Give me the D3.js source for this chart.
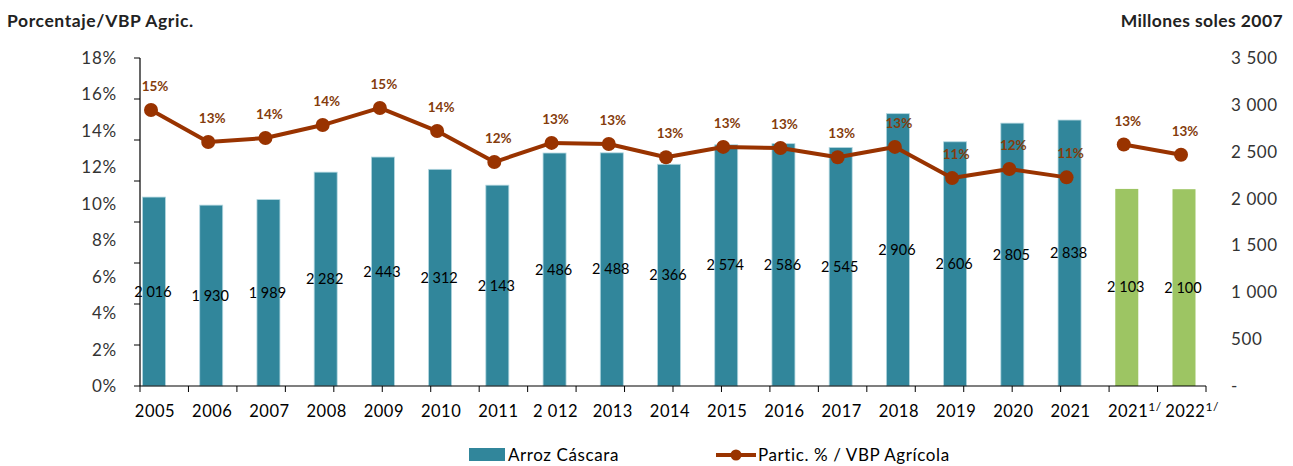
<!DOCTYPE html>
<html lang="es">
<head>
<meta charset="UTF-8">
<title>Arroz Cáscara</title>
<script src="https://cdn.jsdelivr.net/npm/d3@7"></script>
<style>
  body { margin: 0; background: #fff; }
  text { font-family: Lato, "Open Sans", sans-serif; }
</style>
</head>
<body>
<svg width="1293" height="466"></svg>
<script>
// datos
var categorias = ["2005","2006","2007","2008","2009","2010","2011","2 012","2013","2014",
                  "2015","2016","2017","2018","2019","2020","2021","2021","2022"];
var superindice = ["","","","","","","","","","","","","","","","","","1/","1/"];
var proyectado = [false,false,false,false,false,false,false,false,false,false,
                  false,false,false,false,false,false,false,true,true];
var vbpArroz = [2016,1930,1989,2282,2443,2312,2143,2486,2488,2366,
                2574,2586,2545,2906,2606,2805,2838,2103,2100];
var particPct = [15.15,13.39,13.61,14.32,15.26,13.99,12.29,13.34,13.28,12.55,
                 13.12,13.06,12.55,13.12,11.41,11.91,11.45,13.25,12.69];
var ticksPct = [0,2,4,6,8,10,12,14,16,18];
var ticksMill = [0,500,1000,1500,2000,2500,3000,3500];

var svg = d3.select('svg'),
    top_ = 58, bottom = 386, left = 140, right = 1206;

var idx = d3.range(categorias.length);

// escalas
var x = d3.scalePoint().domain(idx).range([151, 1181]);
var yL = d3.scaleLinear().domain([0, 18]).range([bottom, top_]);
var yR = d3.scaleLinear().domain([0, 3500]).range([bottom, top_]);

var loc = d3.formatLocale({decimal: ",", thousands: " ", grouping: [3], currency: ["", ""]});
var fmtMill = loc.format(",d");

// titulos
svg.append('text').attr('x', 7).attr('y', 27)
    .attr('font-size', '17.5px').attr('font-weight', 'bold').attr('fill', '#222')
    .attr('letter-spacing', '0.6px')
    .text('Porcentaje/VBP Agric.');
svg.append('text').attr('x', 1283).attr('y', 27)
    .attr('font-size', '17.5px').attr('font-weight', 'bold').attr('fill', '#222')
    .attr('letter-spacing', '0.4px')
    .attr('text-anchor', 'end')
    .text('Millones soles 2007');

// barras
svg.append('g').selectAll('rect')
    .data(idx)
    .enter().append('rect')
    .attr('x', function(i){ return x(i) + 3 - 11.5; })
    .attr('width', 23)
    .attr('y', function(i){ return yR(vbpArroz[i]); })
    .attr('height', function(i){ return bottom - yR(vbpArroz[i]); })
    .attr('fill', function(i){ return proyectado[i] ? '#9dc563' : '#31869b'; })
    .attr('stroke', function(i){ return proyectado[i] ? 'none' : '#b3d7e0'; })
    .attr('stroke-width', 0.8);

// etiquetas de barras
svg.append('g').selectAll('text')
    .data(idx)
    .enter().append('text')
    .attr('x', function(i){ return x(i) + 2; })
    .attr('y', function(i){ return (yR(vbpArroz[i]) + bottom) / 2 + 5; })
    .attr('text-anchor', 'middle')
    .attr('font-size', '14.5px')
    .attr('fill', '#000')
    .text(function(i){ return fmtMill(vbpArroz[i]); });

// eje izquierdo: linea, marcas y etiquetas
var gL = svg.append('g');
gL.append('line').attr('x1', left).attr('x2', left).attr('y1', top_).attr('y2', bottom)
    .attr('stroke', '#000').attr('stroke-width', 1.2);
var marcasL = d3.scaleLinear().domain([0, 8]).range([bottom, top_]);
gL.selectAll('line.m').data(d3.range(9)).enter().append('line').attr('class', 'm')
    .attr('x1', left - 6).attr('x2', left)
    .attr('y1', function(d){ return marcasL(d); }).attr('y2', function(d){ return marcasL(d); })
    .attr('stroke', '#000').attr('stroke-width', 1);
gL.selectAll('text').data(ticksPct).enter().append('text')
    .attr('x', 117).attr('y', function(d){ return yL(d) + 6; })
    .attr('text-anchor', 'end').attr('font-size', '17px').attr('fill', '#333')
    .attr('letter-spacing', '0.8px')
    .text(function(d){ return d + '%'; });

// eje derecho: etiquetas
svg.append('g').selectAll('text').data(ticksMill).enter().append('text')
    .attr('x', 1231).attr('y', function(d){ return yR(d) + 6; })
    .attr('font-size', '17px').attr('fill', '#333')
    .attr('letter-spacing', '0.6px')
    .text(function(d){ return d === 0 ? '-' : fmtMill(d); });

// eje x
var gX = svg.append('g');
gX.append('line').attr('x1', left).attr('x2', right).attr('y1', bottom).attr('y2', bottom)
    .attr('stroke', '#000').attr('stroke-width', 1.2);
var marcasX = d3.scaleLinear().domain([0, 22]).range([left, right]);
gX.selectAll('line.m').data(d3.range(23)).enter().append('line').attr('class', 'm')
    .attr('x1', function(d){ return marcasX(d); }).attr('x2', function(d){ return marcasX(d); })
    .attr('y1', bottom).attr('y2', bottom + 6)
    .attr('stroke', '#000').attr('stroke-width', 1);
var etq = gX.selectAll('text').data(idx).enter().append('text')
    .attr('x', function(i){ return x(i) + 4 + (superindice[i] ? 7 : 0); })
    .attr('y', 417)
    .attr('text-anchor', 'middle').attr('font-size', '16.5px').attr('fill', '#000')
    .attr('letter-spacing', '0.5px');
etq.append('tspan').text(function(i){ return categorias[i]; });
etq.append('tspan').attr('dy', -6).attr('font-size', '12px')
    .text(function(i){ return superindice[i]; });

// linea de participacion (serie historica y proyectada por separado)
var linea = d3.line()
    .x(function(i){ return x(i); })
    .y(function(i){ return yL(particPct[i]); });
var tramos = [idx.filter(function(i){ return !proyectado[i]; }),
              idx.filter(function(i){ return proyectado[i]; })];
svg.append('g').selectAll('path').data(tramos).enter().append('path')
    .attr('d', linea)
    .attr('fill', 'none').attr('stroke', '#993300').attr('stroke-width', 4)
    .attr('stroke-linejoin', 'round');
svg.append('g').selectAll('circle').data(idx).enter().append('circle')
    .attr('cx', function(i){ return x(i); })
    .attr('cy', function(i){ return yL(particPct[i]); })
    .attr('r', 7)
    .attr('fill', '#993300');
svg.append('g').selectAll('text').data(idx).enter().append('text')
    .attr('x', function(i){ return x(i) + 4; })
    .attr('y', function(i){ return yL(particPct[i]) - 19; })
    .attr('text-anchor', 'middle').attr('font-size', '13.5px').attr('font-weight', 'bold')
    .attr('fill', '#843c0c')
    .text(function(i){ return Math.round(particPct[i]) + '%'; });

// leyenda
var leg = svg.append('g');
leg.append('rect').attr('x', 469).attr('y', 448).attr('width', 36).attr('height', 13)
    .attr('fill', '#31869b');
leg.append('text').attr('x', 508).attr('y', 461).attr('font-size', '17px').attr('fill', '#000')
    .attr('letter-spacing', '0.6px')
    .text('Arroz Cáscara');
leg.append('line').attr('x1', 716).attr('x2', 756).attr('y1', 455).attr('y2', 455)
    .attr('stroke', '#993300').attr('stroke-width', 4);
leg.append('circle').attr('cx', 736).attr('cy', 455).attr('r', 5.5).attr('fill', '#993300');
leg.append('text').attr('x', 758).attr('y', 461).attr('font-size', '17px').attr('fill', '#000')
    .attr('letter-spacing', '0.6px')
    .text('Partic. % / VBP Agrícola');
</script>
</body>
</html>
